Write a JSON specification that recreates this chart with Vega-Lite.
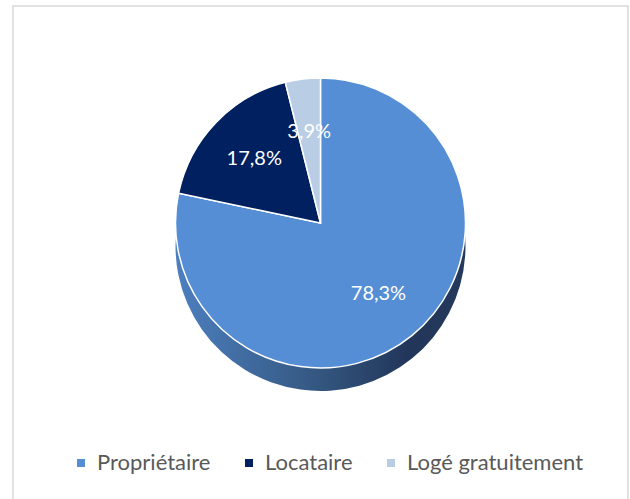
{
  "$schema": "https://vega.github.io/schema/vega-lite/v6.json",
  "autosize": "none",
  "width": 615,
  "height": 500,
  "padding": {"left": 13, "top": 6, "right": 2, "bottom": 0},
  "background": "white",
  "view": {"stroke": "#d9d9d9", "strokeWidth": 1.5, "fill": "white"},
  "config": {
    "style": {"cell": {"stroke": "#d9d9d9", "strokeWidth": 1.5}},
    "locale": {"number": {"decimal": ",", "thousands": " ", "grouping": [3], "currency": ["", " €"]}},
    "font": "Lato"
  },
  "data": {
    "values": [
      {"statut": "Propriétaire", "part": 0.783, "ordre": 1},
      {"statut": "Locataire", "part": 0.178, "ordre": 2},
      {"statut": "Logé gratuitement", "part": 0.039, "ordre": 3}
    ]
  },
  "encoding": {
    "theta": {"field": "part", "type": "quantitative", "stack": true},
    "order": {"field": "ordre", "type": "quantitative"}
  },
  "layer": [
    {
      "mark": {
        "type": "arc",
        "radius": 145,
        "yOffset": -10,
        "color": {
          "gradient": "linear",
          "x1": 0, "y1": 0, "x2": 1, "y2": 0,
          "stops": [
            {"offset": 0, "color": "#4d7fbf"},
            {"offset": 0.5, "color": "#33567f"},
            {"offset": 0.8, "color": "#22365a"},
            {"offset": 1, "color": "#25395c"}
          ]
        },
        "strokeWidth": 0
      },
      "encoding": {}
    },
    {
      "mark": {"type": "arc", "radius": 145, "yOffset": -33, "stroke": "white", "strokeWidth": 1.5},
      "encoding": {
        "color": {
          "field": "statut",
          "type": "nominal",
          "sort": ["Propriétaire", "Locataire", "Logé gratuitement"],
          "scale": {
            "domain": ["Propriétaire", "Locataire", "Logé gratuitement"],
            "range": ["#558ed5", "#002060", "#b9cde5"]
          },
          "legend": {
            "title": null,
            "orient": "none",
            "direction": "horizontal",
            "legendX": 57,
            "legendY": 446,
            "symbolType": "square",
            "symbolSize": 64,
            "symbolStrokeWidth": 0,
            "labelFont": "Lato",
            "labelFontSize": 22,
            "labelColor": "#595959",
            "labelOffset": 5,
            "labelLimit": 400,
            "columnPadding": 27
          }
        }
      }
    },
    {
      "mark": {"type": "text", "radius": 92, "yOffset": -33, "fill": "white", "fontSize": 20, "font": "Lato"},
      "encoding": {
        "text": {"field": "part", "type": "quantitative", "format": ".1%"}
      }
    }
  ]
}
